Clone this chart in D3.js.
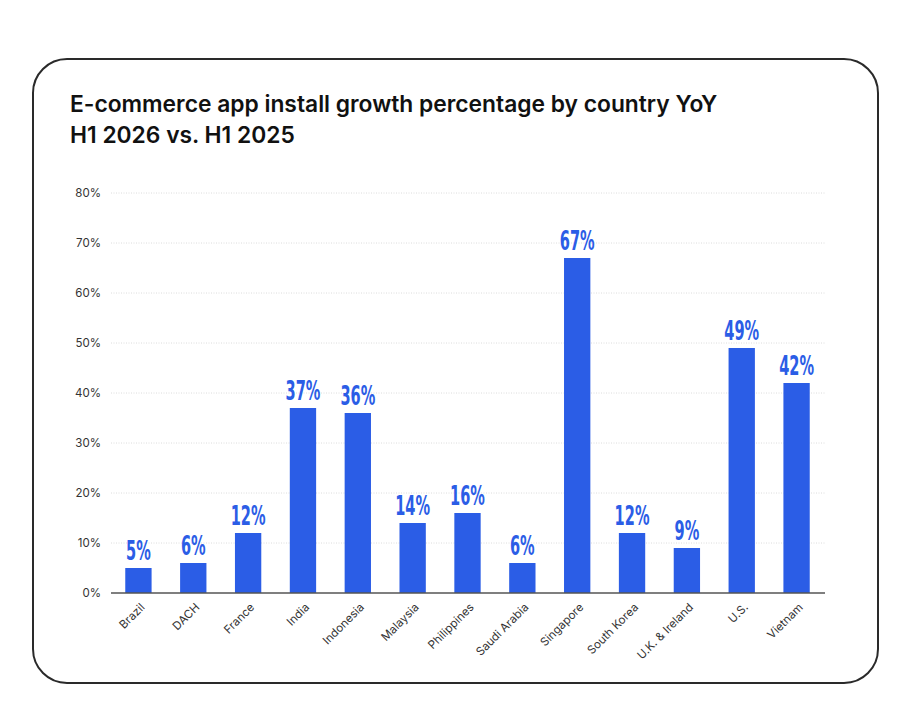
<!DOCTYPE html>
<html>
<head>
<meta charset="utf-8">
<script src="https://cdn.jsdelivr.net/npm/d3@7"></script>
<style>
  body { margin: 0; background: #fff; }
  svg { display: block; }
</style>
</head>
<body>
<div id="chart"></div>
<script>
const countries = ["Brazil", "DACH", "France", "India", "Indonesia", "Malaysia", "Philippines",
  "Saudi Arabia", "Singapore", "South Korea", "U.K. & Ireland", "U.S.", "Vietnam"]
const growth = [5, 6, 12, 37, 36, 14, 16, 6, 67, 12, 9, 49, 42]
const yTicks = [0, 10, 20, 30, 40, 50, 60, 70, 80]
const titleLines = ["E-commerce app install growth percentage by country YoY", "H1 2026 vs. H1 2025"]

var width = 899
var height = 706
const blue = "#2b5de6"

const svg = d3.select("#chart")
    .append("svg")
    .attr("width", width)
    .attr("height", height)

// card
svg.append("rect")
    .attr("x", 33).attr("y", 59)
    .attr("width", 845).attr("height", 624)
    .attr("rx", 34).attr("ry", 34)
    .attr("fill", "#fff")
    .attr("stroke", "#2a2a2a")
    .attr("stroke-width", 2)

svg.selectAll("text.title")
    .data(titleLines)
    .enter()
    .append("text")
    .attr("class", "title")
    .attr("x", 70)
    .attr("y", (d, i) => 112 + i * 31)
    .attr("font-family", "Inter, 'Noto Sans', sans-serif")
    .attr("font-weight", 600)
    .attr("font-size", "22.8px")
    .attr("fill", "#111")
    .text(d => d)

const x = d3.scaleBand()
    .domain(countries)
    .range([111, 824])
    .paddingInner(0.52)
    .paddingOuter(0.26)

const y = d3.scaleLinear()
    .domain([0, 80])
    .range([593, 193])

const g = svg.append("g")

// gridlines
g.selectAll("line.grid")
    .data(yTicks.slice(1))
    .enter()
    .append("line")
    .attr("class", "grid")
    .attr("x1", 111).attr("x2", 825)
    .attr("y1", d => y(d)).attr("y2", d => y(d))
    .attr("stroke", "#dcdcdc")
    .attr("stroke-width", 1)
    .attr("stroke-dasharray", "1,1.5")

// y axis labels
const yAxis = g.append("g")
    .attr("transform", "translate(101,0)")
    .call(d3.axisLeft(y).tickValues(yTicks).tickFormat(d => d + "%").tickSize(0).tickPadding(0))
yAxis.select(".domain").remove()
yAxis.selectAll("text")
    .attr("font-family", "Inter, 'Noto Sans', sans-serif")
    .attr("font-size", "11.5px")
    .attr("fill", "#333")

// bars
g.selectAll("rect.bar")
    .data(growth)
    .enter()
    .append("rect")
    .attr("class", "bar")
    .attr("x", (d, i) => x(countries[i]))
    .attr("y", d => y(d))
    .attr("width", x.bandwidth())
    .attr("height", d => y(0) - y(d))
    .attr("fill", blue)

// value labels (condensed look)
g.selectAll("text.value")
    .data(growth)
    .enter()
    .append("text")
    .attr("class", "value")
    .attr("transform", (d, i) => "translate(" + (x(countries[i]) + x.bandwidth() / 2) + "," + (y(d) - 8) + ") scale(0.6,1)")
    .attr("text-anchor", "middle")
    .attr("font-family", "'DejaVu Sans Condensed', 'DejaVu Sans', sans-serif")
    .attr("font-weight", "bold")
    .attr("font-size", "27px")
    .attr("fill", blue)
    .text(d => d + "%")

// baseline
g.append("line")
    .attr("x1", 111).attr("x2", 825)
    .attr("y1", y(0)).attr("y2", y(0))
    .attr("stroke", "#555")
    .attr("stroke-width", 1.5)

// x labels
const xAxis = g.append("g")
    .attr("transform", "translate(0," + y(0) + ")")
    .call(d3.axisBottom(x).tickSize(0).tickPadding(0))
xAxis.select(".domain").remove()
xAxis.selectAll("text")
    .attr("font-family", "Inter, 'Noto Sans', sans-serif")
    .attr("font-size", "11.5px")
    .attr("fill", "#333")
    .attr("text-anchor", "end")
    .attr("dy", "0")
    .attr("transform", "translate(7,15) rotate(-45)")
</script>
</body>
</html>
